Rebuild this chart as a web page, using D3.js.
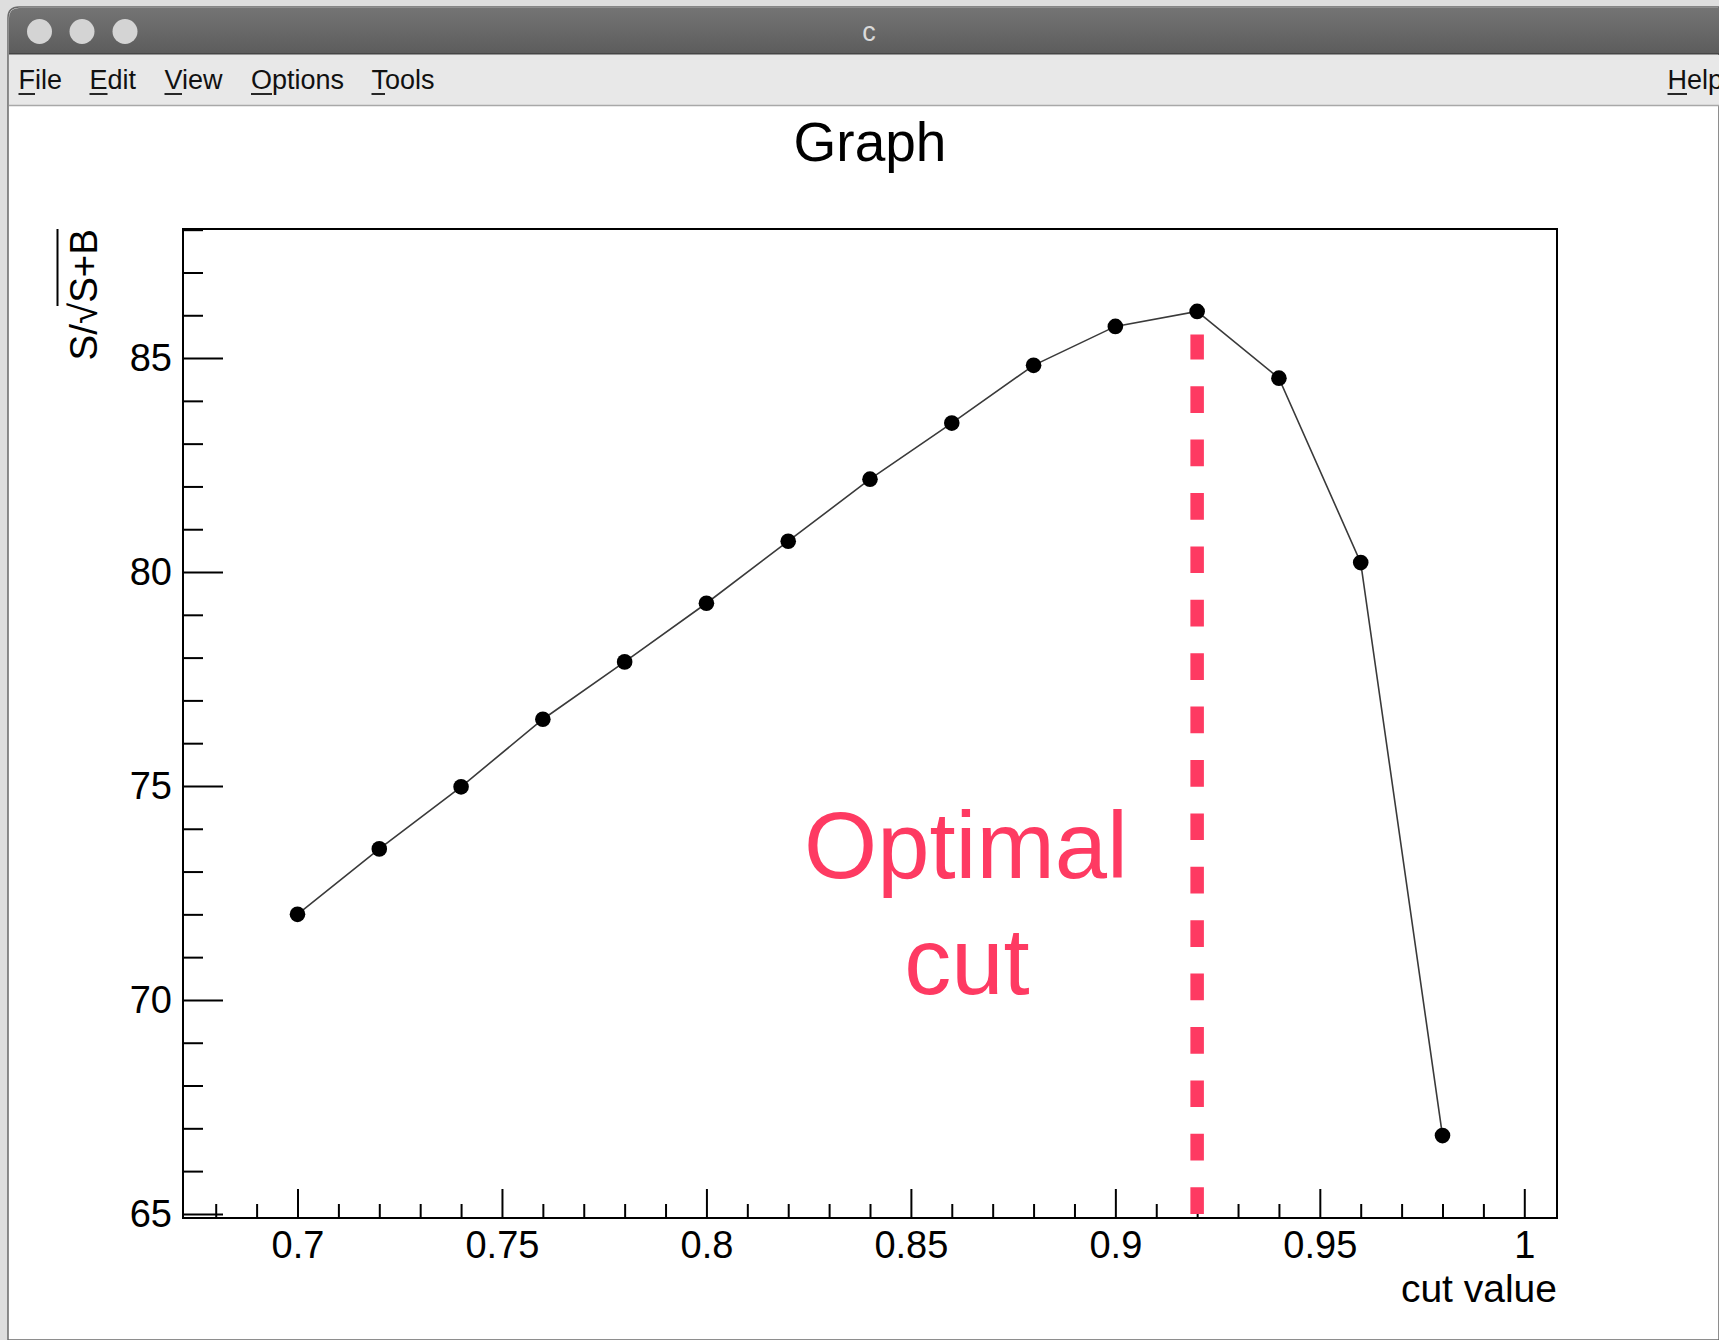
<!DOCTYPE html>
<html>
<head>
<meta charset="utf-8">
<title>Graph</title>
<script src="https://cdn.jsdelivr.net/npm/d3@7"></script>
<style>
  html, body { margin: 0; padding: 0; background: #ffffff; }
  svg { display: block; }
  text { font-family: "Liberation Sans", Arial, Helvetica, sans-serif; }
</style>
</head>
<body>
<svg id="canvas" width="1719" height="1340"></svg>
<script>
// Cut scan: signal significance S/sqrt(S+B) versus the cut value
const cutValues    = [0.70, 0.72, 0.74, 0.76, 0.78, 0.80, 0.82, 0.84, 0.86, 0.88, 0.90, 0.92, 0.94, 0.96, 0.98];
const significance = [72.00, 73.53, 74.98, 76.56, 77.90, 79.27, 80.72, 82.17, 83.48, 84.83, 85.74, 86.09, 84.53, 80.22, 66.83];

const xTickValues = [0.7, 0.75, 0.8, 0.85, 0.9, 0.95, 1.0];
const xTickLabels = ["0.7", "0.75", "0.8", "0.85", "0.9", "0.95", "1"];
const yTickValues = [65, 70, 75, 80, 85];
const yTickLabels = ["65", "70", "75", "80", "85"];

const optimalCut = 0.92;
const optimalCutSpan = [65, 85.55];   // vertical extent of the marker line

const menuItems = ["File", "Edit", "View", "Options", "Tools"];
const helpItem = "Help";
const windowTitle = "c";
const graphTitle = "Graph";
const xTitle = "cut value";

const W = 1719, H = 1340;
const svg = d3.select("#canvas");

// ---------- window chrome ----------
svg.append("rect").attr("x", 0).attr("y", 0).attr("width", W).attr("height", H).attr("fill", "#dedede");

const defs = svg.append("defs");
const grad = defs.append("linearGradient").attr("id", "titlebar").attr("x1", 0).attr("y1", 0).attr("x2", 0).attr("y2", 1);
grad.append("stop").attr("offset", "0%").attr("stop-color", "#747474");
grad.append("stop").attr("offset", "100%").attr("stop-color", "#5c5c5c");

// window body
svg.append("path")
  .attr("d", `M8,${H} L8,18 Q8,7 19,7 L${W},7 L${W},${H} Z`)
  .attr("fill", "#ffffff").attr("stroke", "#6a6a6a").attr("stroke-width", 1.5);
// title bar
svg.append("path")
  .attr("d", `M9,54 L9,18 Q9,8 19,8 L${W},8 L${W},54 Z`)
  .attr("fill", "url(#titlebar)");
svg.append("line").attr("x1", 9).attr("x2", W).attr("y1", 54).attr("y2", 54).attr("stroke", "#2e2e2e").attr("stroke-width", 1.2);

// traffic-light buttons
svg.selectAll("circle.btn").data([39.5, 82, 125]).join("circle")
  .attr("class", "btn").attr("cx", d => d).attr("cy", 31.5).attr("r", 12.5).attr("fill", "#d4d4d4");

svg.append("text").attr("x", 869).attr("y", 41).attr("text-anchor", "middle")
  .attr("font-size", 27).attr("fill", "#dadada").text(windowTitle);

// menu bar
svg.append("rect").attr("x", 9).attr("y", 55).attr("width", W - 9).attr("height", 50).attr("fill", "#e8e8e8");
svg.append("line").attr("x1", 9).attr("x2", W).attr("y1", 105.5).attr("y2", 105.5).attr("stroke", "#a8a8a8").attr("stroke-width", 1.5);

const menuX = [18.5, 89.5, 164.5, 251, 371.5];
const menuG = svg.append("g");
const menuFont = 27;
function menuEntry(label, x0) {
  const t = menuG.append("text").attr("x", x0).attr("y", 89).attr("font-size", menuFont).attr("fill", "#111").text(label);
  const w = t.node().getSubStringLength(0, 1);
  menuG.append("line").attr("x1", x0).attr("x2", x0 + w).attr("y1", 94).attr("y2", 94)
    .attr("stroke", "#111").attr("stroke-width", 1.8);
}
menuItems.forEach((m, i) => menuEntry(m, menuX[i]));
menuEntry(helpItem, 1667.5);

// ---------- plot frame & scales ----------
const frame = { left: 183, right: 1557, top: 229, bottom: 1218 };

// axis ranges padded by 10% of the data span on each side
const xExt = d3.extent(cutValues), yExt = d3.extent(significance);
const xPad = 0.1 * (xExt[1] - xExt[0]), yPad = 0.1 * (yExt[1] - yExt[0]);

const x = d3.scaleLinear().domain([xExt[0] - xPad, xExt[1] + xPad]).range([frame.left, frame.right]);
const y = d3.scaleLinear().domain([yExt[0] - yPad, yExt[1] + yPad]).range([frame.bottom, frame.top]);

const plot = svg.append("g");

// title
plot.append("text").attr("x", 870).attr("y", 161).attr("text-anchor", "middle")
  .attr("font-size", 55).attr("fill", "#000").text(graphTitle);

// minor x ticks every 0.01
const xMinor = d3.range(68, 101).map(v => v / 100).filter(v => !xTickValues.some(t => Math.abs(t - v) < 1e-9));
plot.append("g").attr("transform", `translate(0,${frame.bottom})`)
  .call(d3.axisBottom(x).tickValues(xMinor).tickSize(-14).tickFormat(""))
  .call(g => g.select(".domain").remove())
  .call(g => g.selectAll("line").attr("stroke", "#000").attr("stroke-width", 2));

// major x ticks
plot.append("g").attr("transform", `translate(0,${frame.bottom})`)
  .call(d3.axisBottom(x).tickValues(xTickValues).tickSize(-29).tickPadding(13)
    .tickFormat((d, i) => xTickLabels[i]))
  .call(g => g.select(".domain").remove())
  .call(g => g.selectAll("line").attr("stroke", "#000").attr("stroke-width", 2))
  .call(g => g.selectAll("text").attr("font-size", 38).attr("fill", "#000")
    .attr("font-family", "'Liberation Sans', Arial, sans-serif"));

// minor y ticks every 1
const yMinor = d3.range(65, 89).filter(v => !yTickValues.includes(v));
plot.append("g").attr("transform", `translate(${frame.left},0)`)
  .call(d3.axisLeft(y).tickValues(yMinor).tickSize(-20).tickFormat(""))
  .call(g => g.select(".domain").remove())
  .call(g => g.selectAll("line").attr("stroke", "#000").attr("stroke-width", 2));

// major y ticks
plot.append("g").attr("transform", `translate(${frame.left},0)`)
  .call(d3.axisLeft(y).tickValues(yTickValues).tickSize(-40).tickPadding(11)
    .tickFormat((d, i) => yTickLabels[i]))
  .call(g => g.select(".domain").remove())
  .call(g => g.selectAll("line").attr("stroke", "#000").attr("stroke-width", 2))
  .call(g => g.selectAll("text").attr("font-size", 38).attr("fill", "#000")
    .attr("font-family", "'Liberation Sans', Arial, sans-serif"));

// frame
plot.append("rect")
  .attr("x", frame.left).attr("y", frame.top)
  .attr("width", frame.right - frame.left).attr("height", frame.bottom - frame.top)
  .attr("fill", "none").attr("stroke", "#000").attr("stroke-width", 2);

// x axis title
plot.append("text").attr("x", frame.right).attr("y", 1302).attr("text-anchor", "end")
  .attr("font-size", 39).attr("fill", "#000").text(xTitle);

// y axis title: S/sqrt(S+B), rotated
{
  const g = plot.append("g").attr("transform", `translate(97,${frame.top}) rotate(-90)`);
  const t = g.append("text").attr("x", 0).attr("y", 0).attr("text-anchor", "end")
    .attr("font-size", 38.5).attr("fill", "#000");
  t.append("tspan").text("S/");
  t.append("tspan").text("\u221A");
  t.append("tspan").text("S+B");
  const node = t.node();
  const total = node.getComputedTextLength();
  const preLen = node.getSubStringLength(0, 3);
  const start = -total + preLen;
  const rad = node.getSubStringLength(2, 1);
  g.append("line").attr("x1", start - rad * 0.15).attr("x2", 0).attr("y1", -39.5).attr("y2", -39.5)
    .attr("stroke", "#000").attr("stroke-width", 2);
}

// optimal-cut marker
const red = "#fe3a62";
plot.append("line")
  .attr("x1", x(optimalCut)).attr("x2", x(optimalCut))
  .attr("y1", y(optimalCutSpan[0])).attr("y2", y(optimalCutSpan[1]))
  .attr("stroke", red).attr("stroke-width", 13.5).attr("stroke-dasharray", "26.7,26.7");

plot.append("text").attr("x", 966).attr("y", 878).attr("text-anchor", "middle")
  .attr("font-size", 94).attr("fill", red).text("Optimal");
plot.append("text").attr("x", 967).attr("y", 994).attr("text-anchor", "middle")
  .attr("font-size", 94).attr("fill", red).text("cut");

// graph line and markers
const pts = cutValues.map((c, i) => [c, significance[i]]);
plot.append("path").datum(pts)
  .attr("d", d3.line().x(d => x(d[0])).y(d => y(d[1])))
  .attr("fill", "none").attr("stroke", "#3a3a3a").attr("stroke-width", 1.6);

plot.selectAll("circle.pt").data(pts).join("circle")
  .attr("class", "pt").attr("cx", d => x(d[0])).attr("cy", d => y(d[1])).attr("r", 7.8)
  .attr("fill", "#000");
</script>
</body>
</html>
